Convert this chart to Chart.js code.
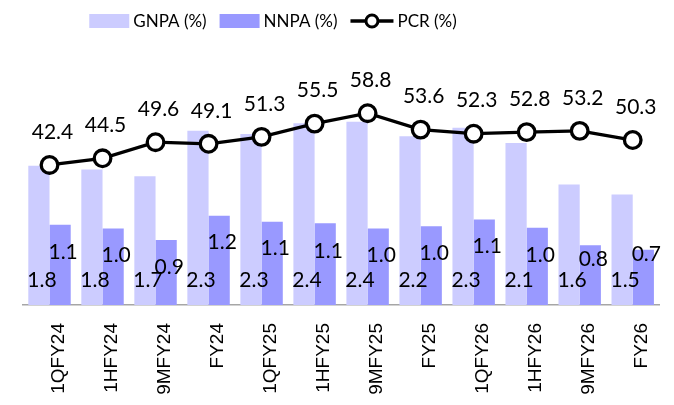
<!DOCTYPE html>
<html><head><meta charset="utf-8">
<script src="https://cdn.jsdelivr.net/npm/chart.js@4"></script>
<style>html,body{margin:0;padding:0;background:#fff}canvas{display:block}</style>
</head><body>
<canvas id="c" width="674" height="405"></canvas>
<script>
const categories = ['1QFY24','1HFY24','9MFY24','FY24','1QFY25','1HFY25','9MFY25','FY25','1QFY26','1HFY26','9MFY26','FY26'];
const gnpa = [1.84,1.79,1.70,2.30,2.26,2.40,2.42,2.23,2.34,2.14,1.59,1.46];
const nnpa = [1.06,1.01,0.86,1.18,1.10,1.08,1.01,1.04,1.13,1.02,0.79,0.73];
const pcr  = [42.4,44.5,49.6,49.1,51.3,55.5,58.8,53.6,52.3,52.8,53.2,50.3];
const seriesNames = ['GNPA (%)','NNPA (%)','PCR (%)'];

// label styling (offsets in px)
const nnpaLabelDrop = [27,27,27,27,27,28,27,27,27,27,14,5];
const labelFont = '21px Lato';
const legendFont = '17px Lato';

const valueLabels = {
  id: 'valueLabels',
  afterDatasetsDraw(chart) {
    const ctx = chart.ctx;
    ctx.save();
    ctx.font = labelFont;
    ctx.fillStyle = '#000';
    ctx.textAlign = 'center';
    ctx.textBaseline = 'middle';
    const base = chart.scales.y.getPixelForValue(0);
    chart.getDatasetMeta(0).data.forEach((el, i) => ctx.fillText(gnpa[i].toFixed(1), el.x + 3, base - 25));
    chart.getDatasetMeta(1).data.forEach((el, i) => ctx.fillText(nnpa[i].toFixed(1), el.x + 3, el.y + nnpaLabelDrop[i]));
    chart.getDatasetMeta(2).data.forEach((el, i) => ctx.fillText(pcr[i].toFixed(1), el.x + 3, el.y - 33));
    ctx.restore();
  }
};

const customLegend = {
  id: 'customLegend',
  afterDraw(chart) {
    const ctx = chart.ctx;
    ctx.save();
    ctx.font = legendFont;
    ctx.textBaseline = 'middle';
    ctx.textAlign = 'left';
    const ds = chart.data.datasets;
    const swW = [40, 40, 43];
    const gapText = 4, gapItem = 13;
    const widths = ds.map((d, i) => swW[i] + gapText + ctx.measureText(d.label).width);
    const total = widths.reduce((a, b) => a + b, 0) + gapItem * (ds.length - 1);
    let x = 273 - total / 2;
    const cy = 21;
    ds.forEach((d, i) => {
      if (d.type === 'line') {
        ctx.strokeStyle = d.borderColor;
        ctx.lineWidth = 3.3;
        ctx.beginPath(); ctx.moveTo(x, cy); ctx.lineTo(x + swW[i], cy); ctx.stroke();
        ctx.beginPath(); ctx.arc(x + swW[i] / 2, cy, 6, 0, Math.PI * 2);
        ctx.fillStyle = '#fff'; ctx.fill(); ctx.lineWidth = 3; ctx.stroke();
      } else {
        ctx.fillStyle = d.backgroundColor;
        ctx.fillRect(x, cy - 7, swW[i], 14);
      }
      ctx.fillStyle = '#000';
      ctx.fillText(d.label, x + swW[i] + gapText, cy + 1);
      x += widths[i] + gapItem;
    });
    ctx.restore();
  }
};

new Chart(document.getElementById('c'), {
  data: {
    labels: categories,
    datasets: [
      { type: 'bar', label: seriesNames[0], data: gnpa, backgroundColor: '#CCCCFF', yAxisID: 'y', order: 1,
        categoryPercentage: 0.8, barPercentage: 1.0, borderWidth: 0 },
      { type: 'bar', label: seriesNames[1], data: nnpa, backgroundColor: '#9999FF', yAxisID: 'y', order: 1,
        categoryPercentage: 0.8, barPercentage: 1.0, borderWidth: 0 },
      { type: 'line', label: seriesNames[2], data: pcr, yAxisID: 'y2', order: 0,
        borderColor: '#000', borderWidth: 3.3, tension: 0,
        pointRadius: 8.3, pointBorderWidth: 3.3, pointBackgroundColor: '#fff', pointBorderColor: '#000',
        clip: false }
    ]
  },
  options: {
    responsive: false,
    animation: false,
    events: [],
    layout: { padding: { top: 40, left: 23, right: 9, bottom: 0 } },
    plugins: { legend: { display: false }, tooltip: { enabled: false } },
    scales: {
      x: {
        grid: { display: false, drawTicks: false },
        border: { display: true, color: '#a6a6a6', width: 1.5 },
        ticks: { minRotation: 90, maxRotation: 90, autoSkip: false, padding: 18, labelOffset: 9, color: '#000',
                 font: { family: "'Liberation Sans', Arial, sans-serif", size: 19 } },
        afterFit(a) { a.height = 100; }
      },
      y: { display: false, min: 0, max: 3.5 },
      y2: { display: false, position: 'right', min: -2, max: 82 }
    }
  },
  plugins: [valueLabels, customLegend]
});
</script>
</body></html>
